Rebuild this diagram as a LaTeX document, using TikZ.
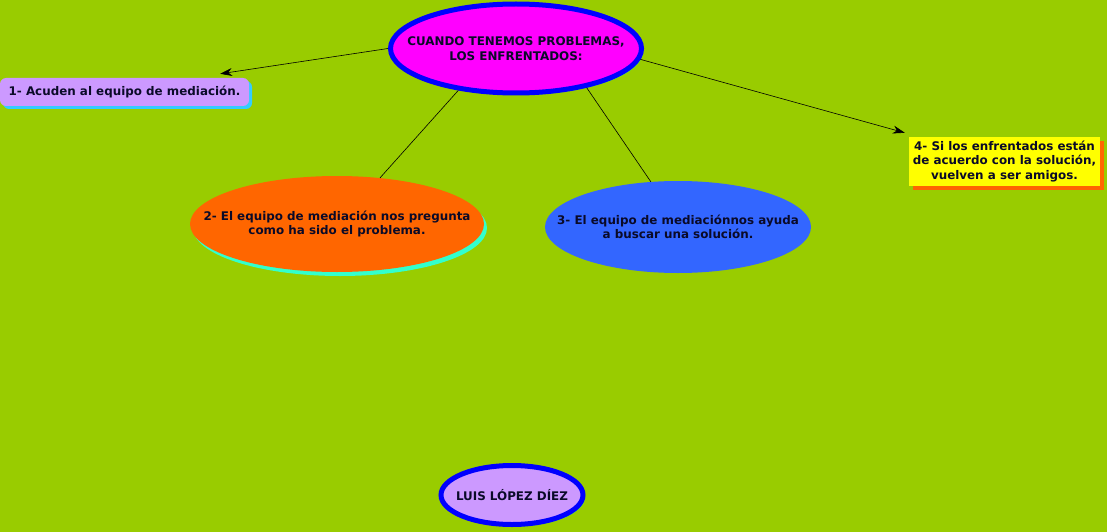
\documentclass[tikz,border=0pt]{standalone}
\usepackage{fontspec}
\setmainfont{DejaVu Sans}
\usetikzlibrary{shapes.geometric,shadows,arrows.meta}
\definecolor{bg}{RGB}{153,204,0}
\definecolor{ink}{RGB}{10,10,40}
\definecolor{mag}{RGB}{255,0,255}
\definecolor{rimblue}{RGB}{0,0,255}
\definecolor{lav}{RGB}{204,153,255}
\definecolor{orng}{RGB}{255,102,0}
\definecolor{sky}{RGB}{51,102,255}
\definecolor{yel}{RGB}{255,255,0}
\definecolor{aqua}{RGB}{51,255,204}
\definecolor{cyanb}{RGB}{51,204,255}
\definecolor{grn}{RGB}{51,255,102}
\begin{document}
\begin{tikzpicture}[x=1pt,y=-1pt,
  txt/.style={font=\bfseries\fontsize{11.9}{14.5}\selectfont, text=ink, align=center, inner sep=0pt},
  oval/.style={ellipse, inner sep=0pt},
  rim/.style={draw=rimblue, line width=5pt},
  arr/.style={-{Stealth[length=12pt,width=8pt]}, line width=0.6pt, black},
  lnk/.style={line width=0.6pt, black}]
\fill[bg] (0,0) rectangle (1107,532);
\useasboundingbox (0,0) rectangle (1107,532);

\node[oval, rim, fill=mag, minimum width=251pt, minimum height=89pt,
  drop shadow={shadow xshift=2pt, shadow yshift=-2pt, fill=grn, opacity=1},
  label={[txt]center:{CUANDO TENEMOS PROBLEMAS,\\LOS ENFRENTADOS:}}] (main) at (516,48.5) {};

\node[txt, fill=lav, rounded corners=6pt, minimum width=249pt, minimum height=28pt,
  drop shadow={shadow xshift=3pt, shadow yshift=-3pt, fill=cyanb, opacity=1}] (box1) at (124.5,92) {1- Acuden al equipo de mediación.};

\node[txt, fill=yel, minimum width=191pt, minimum height=49pt,
  drop shadow={shadow xshift=4pt, shadow yshift=-4pt, fill=orng, opacity=1}] (box4) at (1004.5,161.5)
  {4- Si los enfrentados están\\de acuerdo con la solución,\\vuelven a ser amigos.};

\node[oval, fill=orng, minimum width=294pt, minimum height=96pt,
  drop shadow={shadow xshift=3pt, shadow yshift=-4pt, fill=aqua, opacity=1},
  label={[txt]center:{2- El equipo de mediación nos pregunta\\como ha sido el problema.}}] (step2) at (337,224) {};

\node[oval, fill=sky, minimum width=266pt, minimum height=92pt,
  label={[txt]center:{3- El equipo de mediaciónnos ayuda\\a buscar una solución.}}] (step3) at (678,227) {};

\node[oval, rim, fill=lav, minimum width=142pt, minimum height=59pt,
  drop shadow={shadow xshift=2pt, shadow yshift=-2pt, fill=grn, opacity=1},
  label={[txt]center:{LUIS LÓPEZ DÍEZ}}] (author) at (512,495) {};

\draw[arr] (main.west) -- ([xshift=-29pt,yshift=4pt]box1.north east);
\draw[arr] (main.-5) -- ([xshift=-4pt,yshift=4pt]box4.north west);
\draw[lnk] (main.216) -- (step2.47);
\draw[lnk] (main.-29) -- (step3.121);
\end{tikzpicture}
\end{document}
